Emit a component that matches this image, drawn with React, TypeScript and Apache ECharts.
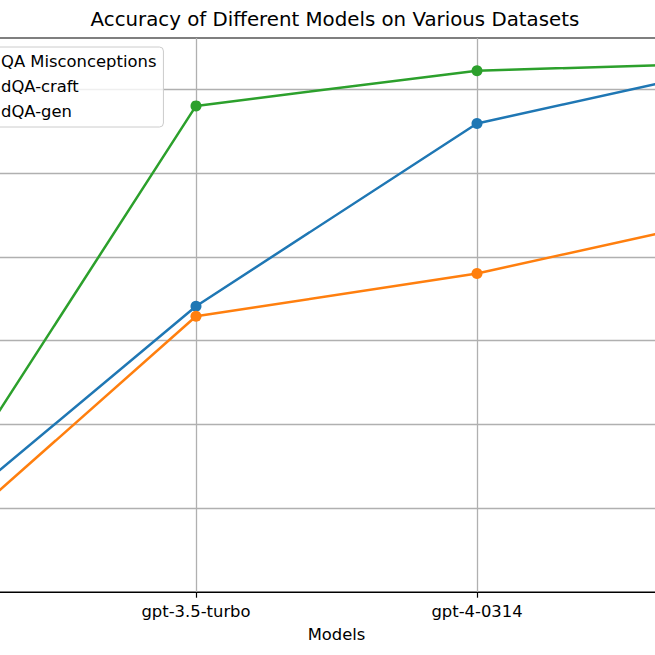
import React, { useEffect, useRef } from "react";
import * as echarts from "echarts";

// Categories (outer two lie outside the visible crop)
const models = ["text-davinci-003", "gpt-3.5-turbo", "gpt-4-0314", "gpt-4-1106-preview"];
const visibleModels = ["gpt-3.5-turbo", "gpt-4-0314"];
const seriesNames = ["QA Misconceptions", "dQA-craft", "dQA-gen"];
const misconceptions = [0.361, 0.641, 0.859, 0.933];
const craft = [0.332, 0.629, 0.68, 0.754];
const gen = [0.36, 0.88, 0.922, 0.932];
const colors = ["#1f77b4", "#ff7f0e", "#2ca02c"];
const yMin = 0.3;
const yMax = 0.961;
const yStep = 0.1;

const FONT = "DejaVu Sans";
// The reference is a crop of a wider figure: draw a wider canvas shifted left.
const SHIFT = 200;
const CANVAS_W = 1000;

export default function App() {
  const ref = useRef<HTMLDivElement>(null);
  useEffect(() => {
    if (!ref.current) return;
    const chart = echarts.init(ref.current, undefined, { renderer: "svg" });
    const values = [misconceptions, craft, gen];
    chart.setOption({
      animation: false,
      backgroundColor: "#ffffff",
      title: {
        text: "Accuracy of Different Models on Various Datasets",
        left: 90.6 + SHIFT,
        top: 9,
        padding: 0,
        textStyle: { fontSize: 19.8, fontWeight: "normal", color: "#000", fontFamily: FONT },
      },
      legend: {
        data: seriesNames,
        orient: "vertical",
        left: -45 + SHIFT,
        top: 47,
        padding: [6, 7, 8, 7],
        itemWidth: 33,
        itemHeight: 16,
        itemGap: 9,
        backgroundColor: "rgba(255,255,255,0.8)",
        borderColor: "#cccccc",
        borderWidth: 1,
        borderRadius: 4,
        textStyle: { fontSize: 16.4, color: "#000", fontFamily: FONT, lineHeight: 16 },
      },
      grid: {
        left: -85 + SHIFT,
        right: CANVAS_W - (758 + SHIFT),
        top: 38,
        bottom: 63,
        show: true,
        borderColor: "#000",
        borderWidth: 1.2,
        backgroundColor: "transparent",
        containLabel: false,
        outerBoundsMode: "none",
      },
      xAxis: {
        type: "category",
        data: models,
        boundaryGap: false,
        name: "Models",
        nameLocation: "middle",
        nameGap: 34,
        nameTextStyle: { fontSize: 16.4, color: "#000", fontFamily: FONT },
        axisLine: { lineStyle: { color: "#000", width: 1.2 } },
        axisTick: { show: true, interval: 0, length: 5.7, lineStyle: { color: "#000", width: 1.2 } },
        axisLabel: {
          interval: (_i: number, v: string) => visibleModels.indexOf(v) >= 0,
          margin: 11.5,
          fontSize: 16.4,
          color: "#000",
          fontFamily: FONT,
        },
        splitLine: { show: true, interval: 0, lineStyle: { color: "#b0b0b0", width: 1.3 } },
      },
      yAxis: {
        type: "value",
        min: yMin,
        max: yMax,
        interval: yStep,
        axisLine: { show: true, lineStyle: { color: "#000", width: 1.2 } },
        axisTick: { show: true, length: 5.7, lineStyle: { color: "#000" } },
        axisLabel: { show: false },
        splitLine: {
          show: true,
          showMinLine: false,
          showMaxLine: false,
          lineStyle: { color: "#b0b0b0", width: 1.3 },
        },
      },
      series: seriesNames.map((name, i) => ({
        name,
        type: "line",
        data: values[i],
        symbol: "circle",
        symbolSize: 11,
        showAllSymbol: true,
        color: colors[i],
        lineStyle: { width: 2.5, color: colors[i] },
        itemStyle: { color: colors[i] },
      })),
    });
    return () => chart.dispose();
  }, []);
  return (
    <div
      ref={ref}
      style={{
        position: "fixed",
        left: -SHIFT,
        top: 0,
        width: CANVAS_W,
        height: 655,
        background: "#fff",
      }}
    />
  );
}
